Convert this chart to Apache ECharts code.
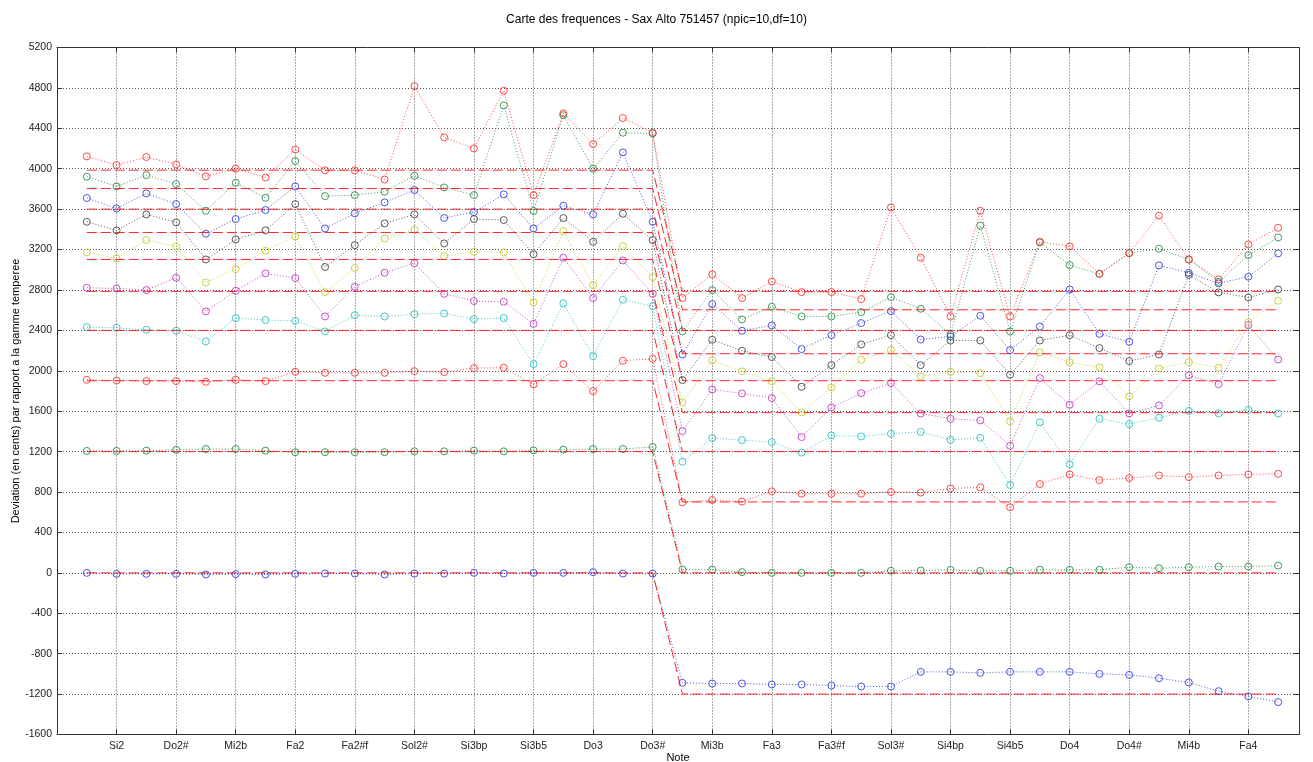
<!DOCTYPE html>
<html><head><meta charset="utf-8">
<script src="https://cdn.jsdelivr.net/npm/echarts@6/dist/echarts.min.js"></script>
<style>html,body{margin:0;padding:0;background:#fff}#c{width:1313px;height:762px}</style>
</head><body><div id="c"></div>
<script>
const noteLabels = ['Si2','Do2#','Mi2b','Fa2','Fa2#f','Sol2#','Si3bp','Si3b5','Do3','Do3#','Mi3b','Fa3','Fa3#f','Sol3#','Si4bp','Si4b5','Do4','Do4#','Mi4b','Fa4'];
const yTicks = [-1600,-1200,-800,-400,0,400,800,1200,1600,2000,2400,2800,3200,3600,4000,4400,4800,5200];

const peak1 = [0,-10,-10,-10,-16,-13,-16,-10,-7,-7, -16,-7,-7,0,-7,0,0,7,-7,-7, -1089,-1095,-1095,-1105,-1105,-1115,-1125,-1125,-980,-980,-990, -980,-980,-980,-1000,-1010,-1043,-1085,-1171,-1223,-1279];
const peak2 = [1207,1207,1210,1217,1226,1226,1210,1194,1194,1194, 1194,1203,1203,1210,1203,1213,1220,1226,1226,1246, 33,33,7,0,0,0,0,20,23,30,20, 20,30,30,30,56,46,56,62,62,72];
const peak3 = [1911,1904,1898,1898,1891,1911,1898,1990,1980,1980, 1980,1997,1987,2027,2030,1865,2066,1799,2099,2119, 698,721,705,807,784,784,784,800,794,836,846, 649,879,974,918,938,964,948,964,974,980];
const peak4 = [2432,2426,2406,2396,2291,2522,2502,2495,2390,2551, 2538,2561,2568,2512,2522,2066,2667,2145,2703,2640, 1100,1334,1314,1294,1190,1360,1350,1377,1396,1317,1337, 870,1489,1075,1525,1472,1535,1604,1578,1614,1578];
const peak5 = [2822,2815,2799,2921,2588,2792,2964,2918,2538,2832, 2970,3066,2762,2690,2683,2465,3119,2720,3092,2762, 1403,1815,1776,1730,1344,1637,1779,1878,1578,1525,1509, 1258,1928,1664,1895,1578,1657,1954,1868,2452,2112];
const peak6 = [3172,3112,3294,3231,2875,3007,3188,3330,2779,3017, 3310,3396,3135,3178,3172,2677,3383,2848,3234,2927, 1687,2103,1994,1895,1588,1835,2109,2208,1944,1990,1977, 1499,2182,2086,2033,1746,2023,2086,2030,2479,2693];
const peak7 = [3475,3390,3548,3469,3102,3300,3390,3650,3027,3244, 3459,3548,3261,3502,3492,3155,3512,3277,3554,3294, 1908,2307,2198,2136,1842,2056,2261,2353,2056,2300,2300, 1961,2300,2353,2225,2096,2162,2950,2776,2726,2805];
const peak8 = [3710,3607,3756,3650,3357,3502,3591,3825,3409,3558, 3667,3789,3512,3571,3746,3409,3634,3548,4162,3475, 2162,2660,2396,2449,2215,2353,2472,2591,2310,2340,2545, 2205,2439,2805,2366,2287,3043,2970,2865,2931,3162];
const peak9 = [3921,3825,3937,3848,3584,3861,3713,4076,3729,3739, 3772,3931,3815,3739,4627,3581,4530,4000,4356,4350, 2390,2799,2508,2634,2538,2538,2581,2729,2614,2360,3436, 2390,3271,3046,2960,3165,3208,3102,2880,3145,3320];
const peak10 = [4122,4036,4116,4043,3924,4000,3914,4191,3984,3984, 3894,4818,4310,4201,4772,3739,4548,4244,4502,4356, 2720,2954,2720,2885,2779,2779,2710,3617,3119,2538,3584, 2538,3277,3231,2960,3165,3536,3102,2905,3251,3416];

// theoretical harmonic deviations (cents): first register, then second register
const refLow  = [0,1200,1902,2400,2786,3102,3369,3600,3804,3986];
const refHigh = [-1200,0,702,1200,1586,1902,2169,2400,2604,2786];
const lastLowIndex = 20; // Do3# is the last note of the first register

const peaks = [peak1,peak2,peak3,peak4,peak5,peak6,peak7,peak8,peak9,peak10];
const colorCycle = ['#2a3ae0','#208a40','#ff2a2a','#20c0c0','#c030c0','#c8c820','#404040'];

const series = [];
peaks.forEach((arr, k) => {
  const c = colorCycle[k % colorCycle.length];
  series.push({
    type: 'line', name: 'pic' + (k+1),
    data: arr.map((v, i) => [i + 1, v]),
    symbol: 'circle', symbolSize: 7,
    itemStyle: { color: 'rgba(0,0,0,0)', borderColor: c, borderWidth: 1, opacity: 0.85 },
    lineStyle: { color: c, width: 1, type: [1, 2], opacity: 0.85 },
    emphasis: { disabled: true }, z: 2
  });
});
refLow.forEach((v, n) => {
  const data = [];
  for (let i = 1; i <= peak1.length; i++) data.push([i, i <= lastLowIndex ? v : refHigh[n]]);
  series.push({
    type: 'line', name: 'ref' + (n+1), data, symbol: 'none',
    lineStyle: { color: '#ff0000', width: 1, type: [10, 4], opacity: 0.85 },
    emphasis: { disabled: true }, z: 3
  });
});

const font = 'Liberation Sans, Arial, sans-serif';
const chart = echarts.init(document.getElementById('c'));
chart.setOption({
  animation: false,
  backgroundColor: '#fff',
  title: {
    text: 'Carte des frequences - Sax Alto 751457 (npic=10,df=10)',
    left: 'center', top: 9,
    textStyle: { fontSize: 12, fontWeight: 'normal', color: '#000', fontFamily: font }
  },
  grid: { left: 57, right: 14, top: 47.5, bottom: 27.5, containLabel: false, outerBoundsMode: 'none' },
  xAxis: [{
    type: 'value', min: 0, max: 41.7, interval: 2,
    name: 'Note', nameLocation: 'middle', nameGap: 18, nameMoveOverlap: false,
    nameTextStyle: { fontSize: 11, color: '#000', fontFamily: font },
    axisLine: { show: true, onZero: false, lineStyle: { color: '#333', width: 1 } },
    axisTick: { show: true, inside: true, length: 5, lineStyle: { color: '#333' } },
    axisLabel: {
      fontSize: 10.5, color: '#222', fontFamily: font, margin: 6,
      showMinLabel: false, showMaxLabel: false,
      formatter: v => (v >= 2 && v <= 40 && v % 2 === 0) ? noteLabels[v / 2 - 1] : ''
    },
    splitLine: { show: true, lineStyle: { color: '#555', width: 1, type: [1, 2] } }
  }, {
    type: 'value', position: 'top', min: 0, max: 41.7, interval: 2,
    axisLine: { show: true, onZero: false, lineStyle: { color: '#333', width: 1 } },
    axisTick: { show: true, inside: true, length: 5, lineStyle: { color: '#333' } },
    axisLabel: { show: false }, splitLine: { show: false }
  }],
  yAxis: [{
    type: 'value', min: yTicks[0], max: yTicks[yTicks.length - 1], interval: 400,
    name: 'Deviation (en cents) par rapport a la gamme temperee',
    nameLocation: 'middle', nameGap: 36, nameMoveOverlap: false,
    nameTextStyle: { fontSize: 11, color: '#000', fontFamily: font },
    axisLine: { show: true, onZero: false, lineStyle: { color: '#333', width: 1 } },
    axisTick: { show: true, inside: true, length: 5, lineStyle: { color: '#333' } },
    axisLabel: { fontSize: 10.5, color: '#222', fontFamily: font, margin: 5, formatter: v => String(v) },
    splitLine: { show: true, lineStyle: { color: '#555', width: 1, type: [1, 2] } }
  }, {
    type: 'value', position: 'right', min: yTicks[0], max: yTicks[yTicks.length - 1], interval: 400,
    axisLine: { show: true, onZero: false, lineStyle: { color: '#333', width: 1 } },
    axisTick: { show: true, inside: true, length: 5, lineStyle: { color: '#333' } },
    axisLabel: { show: false }, splitLine: { show: false }
  }],
  series
});
</script></body></html>
